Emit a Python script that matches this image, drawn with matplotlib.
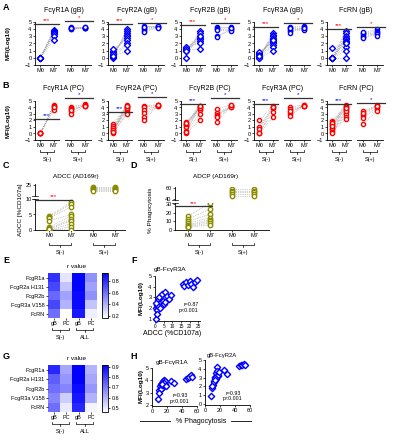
import numpy as np
import matplotlib
matplotlib.use('Agg')
import matplotlib.pyplot as plt
import matplotlib.transforms as mtrans
from matplotlib.colors import LinearSegmentedColormap

plt.rcParams['font.family'] = ['Liberation Sans', 'DejaVu Sans']

W, H = 402, 440

# ---------------- data ----------------
receptors = ['Fc\u03b3R1A', 'Fc\u03b3R2A', 'Fc\u03b3R2B', 'Fc\u03b3R3A', 'FcRN']

# row A : gB binding, MFI(log10)
gb_neg_m0 = [[0, 0, 0, 0, 0, 0, 0, 0, 0],
             [0, 0.2, 0.4, 0.6, 0.8, 1.0, 1.2, 0.5, 0.1, 0.3],
             [0, 1.0, 1.2, 1.4, 1.3, 1.1, 1.5, 1.2, 1.0],
             [0, 0.1, 0.2, 0.3, 0.5, 0.6, 0.7, 0.8, 0.4, 0.2, 0.0, 0.3],
             [0, 0, 0, 0, 0, 0, 0, 1.4, 0, 0, 0, 0]]
gb_neg_m7 = [[3.9, 3.8, 3.7, 3.6, 3.5, 3.4, 3.3, 3.0, 2.5],
             [4.0, 3.7, 3.5, 3.2, 3.0, 2.8, 2.5, 2.0, 1.8, 0.9],
             [3.7, 3.4, 3.1, 2.8, 2.6, 2.4, 2.0, 1.2, 3.0],
             [3.5, 3.2, 3.0, 2.8, 2.6, 2.4, 2.2, 2.0, 1.8, 1.5, 1.0, 2.5],
             [3.7, 3.4, 3.0, 2.8, 2.6, 2.4, 2.2, 2.0, 1.5, 1.0, 0.0, 2.1]]
gb_pos_m0 = [[4.3, 4.2, 4.1, 4.0, 4.0, 4.2],
             [4.4, 4.2, 4.0, 3.8, 4.3, 3.6],
             [4.3, 4.1, 4.0, 3.9, 3.1, 2.9],
             [4.3, 4.1, 3.9, 3.7, 3.5, 4.2],
             [3.5, 3.3, 3.1, 2.9, 2.7, 3.6]]
gb_pos_m7 = [[4.3, 4.2, 4.2, 4.1, 4.2, 4.3],
             [4.4, 4.3, 4.35, 4.3, 4.4, 4.2],
             [4.3, 4.2, 4.0, 3.9, 3.8, 4.1],
             [4.4, 4.2, 4.0, 3.9, 4.3, 4.1],
             [4.0, 3.8, 3.6, 3.5, 3.3, 3.1]]
gb_sig_neg = [4.7, 4.7, 4.6, 4.35, 4.0]
gb_sig_pos = [5.1, 4.9, 4.8, 4.8, 4.35]

# row B : PC binding
pc_neg_m0 = [[0, 0, 0, 0, 0, 0],
             [1.4, 1.1, 0.8, 0.6, 0.4, 0.2, 0.0, 0.9, 0.5, 0.3],
             [1.7, 1.5, 1.3, 1.2, 1.0, 0.4, 0.0, 1.4, 1.6, 0.2],
             [2.0, 1.0, 0.7, 0.1, 0.0, 0.0],
             [1.9, 1.7, 1.5, 1.3, 1.1, 0.9, 0.7, 0.5, 0.3, 0.0, 1.6, 1.2]]
pc_neg_m7 = [[4.4, 4.3, 4.2, 3.9, 3.6, 4.0],
             [4.4, 4.2, 4.0, 3.8, 3.5, 3.1, 3.0, 4.1, 3.9, 4.3],
             [4.3, 4.2, 4.0, 3.8, 3.6, 3.0, 2.1, 4.1, 3.9, 4.2],
             [4.3, 4.1, 3.9, 3.3, 2.5, 4.0],
             [4.4, 4.2, 4.0, 3.8, 3.6, 3.3, 3.0, 2.6, 2.2, 3.5, 4.1, 3.9]]
pc_pos_m0 = [[4.1, 3.9, 3.7, 3.4, 3.0, 3.6],
             [4.3, 4.0, 3.6, 3.1, 2.6, 2.0],
             [3.8, 3.2, 2.9, 2.7, 2.5, 1.7],
             [4.1, 3.7, 3.3, 3.0, 2.7, 3.5],
             [3.4, 3.0, 2.7, 2.4, 1.4, 3.2]]
pc_pos_m7 = [[4.5, 4.4, 4.3, 4.4, 4.2, 4.3],
             [4.4, 4.4, 4.3, 4.4, 4.3, 4.35],
             [4.4, 4.2, 4.1, 4.3, 4.0, 4.4],
             [4.4, 4.3, 4.2, 4.4, 4.3, 4.2],
             [4.4, 4.2, 4.0, 3.7, 3.5, 4.3]]
pc_sig_neg = [2.2, 3.3, 4.6, 4.6, 4.6]
pc_sig_pos = [5.4, 5.6, 5.5, 5.5, 4.7]

# C : ADCC
adcc_neg_m0 = [4.5, 4.2, 3.8, 3.0, 1.0, 0.5, 0.3, 0.0, 0.0, 0.2]
adcc_neg_m7 = [9.0, 8.5, 7.5, 5.0, 4.5, 3.5, 3.0, 2.0, 1.0, 0.0]
adcc_pos_m0 = [23, 22, 21, 20, 19]
adcc_pos_m7 = [23, 22, 21, 20, 19]

# D : ADCP
adcp_neg_m0 = [16, 13, 10, 8, 6, 5, 4, 3]
adcp_neg_m7 = [31, 24, 18, 14, 12, 10, 8, 6]
adcp_pos_m0 = [58, 55, 52, 49, 46]
adcp_pos_m7 = [58, 55, 52, 49, 46]

# E / G : r values
hm_rows = ['FcgR1a', 'FcgR2a H131', 'FcgR2b', 'FcgR3a V158', 'FcRN']
hm_cols = ['gB', 'PC', 'gB', 'PC']
e_r = [[0.78, 0.25, 0.92, 0.50],
       [0.72, 0.35, 0.92, 0.45],
       [0.62, 0.45, 0.90, 0.50],
       [0.72, 0.40, 0.90, 0.35],
       [0.60, 0.17, 0.85, 0.22]]
g_r = [[0.85, 0.62, 0.92, 0.60],
       [0.75, 0.65, 0.92, 0.62],
       [0.72, 0.68, 0.90, 0.65],
       [0.68, 0.55, 0.88, 0.60],
       [0.72, 0.50, 0.85, 0.48]]

# F : ADCC vs gB-FcgR3A
f_x = [0.5, 1, 1.5, 2, 2.5, 3, 3.5, 4, 4.5, 5, 5.5, 6, 7, 8, 9, 1, 2, 3, 0.8, 1.2,
       16, 17, 18, 19, 20, 21, 22, 23, 24, 0.3]
f_y = [2.0, 2.3, 2.8, 2.1, 3.0, 2.5, 2.2, 3.3, 2.7, 2.4, 3.5, 2.6, 3.1, 2.9, 3.2, 1.8, 2.2,
       2.0, 1.0, 1.5, 4.3, 4.1, 4.4, 4.2, 4.5, 4.3, 4.0, 4.4, 4.6, 2.5]

# H : ADCP vs gB-FcgR1A / gB-FcgR2A
h1_x = [8, 10, 11, 12, 13, 14, 15, 15, 16, 17, 18, 12, 14, 16, 25, 30, 45, 48, 50, 52, 54, 10, 13, 19]
h1_y = [2.5, 3.2, 3.5, 3.7, 3.4, 3.8, 3.9, 3.6, 4.0, 3.7, 3.9, 3.3, 3.6, 3.8, 3.9, 3.8,
        4.1, 4.2, 4.3, 4.4, 4.3, 3.0, 3.7, 3.5]
h2_x = [8, 10, 11, 12, 13, 14, 15, 15, 16, 17, 18, 12, 14, 16, 25, 30, 45, 48, 50, 52, 54, 10, 13, 19]
h2_y = [0.9, 1.8, 2.2, 2.6, 2.8, 3.1, 3.5, 2.9, 4.2, 3.2, 3.3, 2.5, 3.0, 3.7, 3.9, 3.4,
        4.3, 4.4, 4.4, 4.5, 4.4, 2.0, 2.7, 3.6]

# ---------------- drawing ----------------
fig = plt.figure(figsize=(W / 100, H / 100), dpi=100)
tfs = 4.0   # tick font
lfs = 4.6   # label font
BLUE, RED, OLIVE = '#0000ff', '#ff0000', '#8c8c00'


def ax_px(x0, y0, x1, y1):
    return fig.add_axes([x0 / W, 1 - y1 / H, (x1 - x0) / W, (y1 - y0) / H])


def ftext(x, y, s, **kw):
    kw.setdefault('fontsize', lfs)
    kw.setdefault('ha', 'center')
    kw.setdefault('va', 'center')
    return fig.text(x / W, 1 - y / H, s, **kw)


def style(ax, show_y=True):
    for s in ['top', 'right']:
        ax.spines[s].set_visible(False)
    for s in ['left', 'bottom']:
        ax.spines[s].set_linewidth(0.6)
    ax.tick_params(labelsize=tfs, length=1.5, width=0.5, pad=1)
    if not show_y:
        ax.spines['left'].set_visible(False)
        ax.set_yticks([])


def paired(ax, m0, m7, color, marker, xs=(0, 1), s=9):
    for a, b in zip(m0, m7):
        ax.plot(xs, [a, b], color='#9a9a9a', ls=':', lw=0.5, zorder=1)
    ax.scatter([xs[0]] * len(m0), m0, s=s, marker=marker, facecolors='white',
               edgecolors=color, linewidths=1.0, zorder=3, clip_on=False)
    ax.scatter([xs[1]] * len(m7), m7, s=s, marker=marker, facecolors='white',
               edgecolors=color, linewidths=1.0, zorder=3, clip_on=False)


def sig(ax, x0, x1, y, txt, color, dy=0.15):
    ax.plot([x0, x1], [y, y], color='#333333', lw=0.9, clip_on=False, zorder=4)
    ax.text((x0 + x1) / 2, y + dy, txt, color=color, ha='center', va='bottom',
            fontsize=4.5, clip_on=False)


def brace(ax, x0, x1, ypx, label):
    tr = mtrans.blended_transform_factory(ax.transData, fig.transFigure)
    y = 1 - ypx / H
    h = 1.8 / H
    ax.plot([x0, x0, x1, x1], [y + h, y, y, y + h], transform=tr, color='k',
            lw=0.5, clip_on=False)
    xm = (x0 + x1) / 2
    ax.plot([xm, xm], [y, y - h], transform=tr, color='k', lw=0.5, clip_on=False)
    ax.text(xm, y - 7 / H, label, transform=tr, ha='center', va='center',
            fontsize=tfs, clip_on=False)


# panel letters
for lab, x, y in [('A', 6, 7), ('B', 6, 86), ('C', 6, 166), ('D', 134, 166),
                  ('E', 6, 260), ('F', 134, 260), ('G', 6, 356), ('H', 134, 356)]:
    ftext(x, y, lab, fontsize=6.5, fontweight='bold')

# rows A and B
rows = [(gb_neg_m0, gb_neg_m7, gb_pos_m0, gb_pos_m7, gb_sig_neg, gb_sig_pos,
         BLUE, RED, 'D', 'o', '(gB)', 10, 22, 65, False),
        (pc_neg_m0, pc_neg_m7, pc_pos_m0, pc_pos_m7, pc_sig_neg, pc_sig_pos,
         RED, BLUE, 'o', 'o', '(PC)', 88, 101, 140, True)]
for (n0, n7, p0, p7, sn, sp, col, scol, mk_n, mk_p, tag, ty, top, bot, braces) in rows:
    ftext(8, (top + bot) / 2, 'MFI(Log10)', rotation=90, fontweight='bold', fontsize=4.6)
    for i, rec in enumerate(receptors):
        a = 35 + 73 * i
        ftext(a + 29, ty, rec + ' ' + tag, fontsize=5)
        axl = ax_px(a, top, a + 24, bot)
        axr = ax_px(a + 30, top, a + 56, bot)
        for ax in (axl, axr):
            ax.set_xlim(-0.4, 1.4)
            ax.set_ylim(-1, 5)
            ax.set_xticks([0, 1])
            ax.set_xticklabels(['M0', 'M7'])
        style(axl)
        axl.set_yticks(range(-1, 6))
        style(axr, show_y=False)
        paired(axl, n0[i], n7[i], col, mk_n)
        paired(axr, p0[i], p7[i], col, mk_p)
        sig(axl, -0.5, 1.4, sn[i], '***', scol)
        sig(axr, -0.4, 1.55, sp[i], '*', scol)
        if braces:
            brace(axl, 0, 1, bot + 12, 'S(-)')
            brace(axr, 0, 1, bot + 12, 'S(+)')


def broken(x0, x1, top_px, mid_hi, mid_lo, bot_px, lo_lim, hi_lim, lo_ticks, hi_ticks, xlim):
    axt = ax_px(x0, top_px, x1, mid_hi)
    axb = ax_px(x0, mid_lo, x1, bot_px)
    for ax in (axt, axb):
        ax.set_xlim(*xlim)
        style(ax)
    axt.set_ylim(*hi_lim)
    axb.set_ylim(*lo_lim)
    axt.set_yticks(hi_ticks)
    axb.set_yticks(lo_ticks)
    axt.spines['bottom'].set_visible(False)
    axt.set_xticks([])
    axb.set_xticks([0, 1, 2, 3])
    axb.set_xticklabels(['M0', 'M7', 'M0', 'M7'])
    # break marks
    for yy in (1 - (mid_hi + 0.3) / H, 1 - (mid_lo - 0.3) / H):
        fig.add_artist(plt.Line2D([(x0 - 3) / W, (x0 + 3) / W], [yy, yy],
                                  color='k', lw=0.5))
    return axt, axb


# C : ADCC
ftext(76, 176, 'ADCC (AD169r)')
ctop, cbot = broken(35, 125, 184, 196, 199, 230, (0, 10), (15, 25.5), [0, 5, 10], [25],
                    (-0.65, 3.45))
for ax in (ctop, cbot):
    paired(ax, adcc_neg_m0, adcc_neg_m7, OLIVE, 'o', s=10)
    paired(ax, adcc_pos_m0, adcc_pos_m7, OLIVE, 'o', xs=(2, 3), s=10)
    for c in ax.collections:
        c.set_clip_on(True)
sig(cbot, -0.65, 1.05, 9.7, '***', RED, dy=0.3)
ftext(21, 210, 'ADCC [%CD107a]', rotation=90)
brace(cbot, 0, 1, 245, 'S(-)')
brace(cbot, 2, 3, 245, 'S(+)')

# D : ADCP
ftext(216, 176, 'ADCP (AD169r)')
dtop, dbot = broken(175, 269, 187, 200, 203, 230, (0, 31), (38, 62), [0, 10, 20, 30], [40, 60],
                    (-0.6, 3.68))
for ax in (dtop, dbot):
    paired(ax, adcp_neg_m0, adcp_neg_m7, OLIVE, 'o', s=10)
    paired(ax, adcp_pos_m0, adcp_pos_m7, OLIVE, 'o', xs=(2, 3), s=10)
    for c in ax.collections:
        c.set_clip_on(True)
sig(dbot, -0.6, 1.1, 27, '***', RED, dy=1)
ftext(151, 210, '% Phagocytosis', rotation=90)
brace(dbot, 0, 1, 245, 'S(-)')
brace(dbot, 2, 3, 245, 'S(+)')

# E / G heatmaps
cmap = LinearSegmentedColormap.from_list('wb', ['#ffffff', '#0000ff'])
for vals, top, bot, vmin, vmax, cticks in [(e_r, 273, 318, 0.17, 0.93, [0.2, 0.4, 0.6, 0.8]),
                                           (g_r, 365, 412, 0.46, 0.92, [0.5, 0.6, 0.7, 0.8, 0.9])]:
    ftext(77, top - 7, 'r value')
    ax = ax_px(48, top, 97, bot)
    im = ax.imshow(np.array(vals), cmap=cmap, vmin=vmin, vmax=vmax, aspect='auto')
    ax.set_yticks(range(len(hm_rows)))
    ax.set_yticklabels(hm_rows)
    ax.set_xticks(range(len(hm_cols)))
    ax.set_xticklabels(hm_cols)
    ax.tick_params(labelsize=tfs, length=1.5, width=0.5, pad=1)
    for s in ax.spines.values():
        s.set_visible(False)
    brace(ax, -0.2, 1.2, bot + 12, 'S(-)')
    brace(ax, 1.8, 3.2, bot + 12, 'ALL')
    cax = ax_px(102, top, 108, bot)
    cb = fig.colorbar(im, cax=cax, ticks=cticks)
    cb.outline.set_linewidth(0.6)
    cb.ax.tick_params(labelsize=tfs, length=1.5, width=0.5, pad=1)

# F
axf = ax_px(155, 276, 200, 321)
style(axf)
axf.scatter(f_x, f_y, s=10, marker='D', facecolors='white', edgecolors=BLUE, linewidths=1.0,
            zorder=3, clip_on=False)
axf.set_xlim(0, 26)
axf.set_ylim(0.8, 5)
axf.set_xticks([0, 5, 10, 15, 20, 25])
axf.set_yticks([1, 2, 3, 4, 5])
axf.tick_params(axis='x', labelsize=3.4, pad=0.8)
axf.text(0.97, 0.3, 'r=0.87\np<0.001', transform=axf.transAxes, fontsize=3.8,
         ha='right', va='center', linespacing=1.1)
ftext(170, 270, 'gB-Fc\u03b3R3A')
ftext(172, 333, 'ADCC (%CD107a)', fontsize=5)
ftext(141, 298, 'MFI(Log10)', rotation=90, fontweight='bold')

# H
axh1 = ax_px(152, 368, 197, 406)
axh2 = ax_px(205, 360, 250, 405)
for ax, xs, ys, lim, ticks in [(axh1, h1_x, h1_y, (1.9, 5), [2, 3, 4, 5]),
                               (axh2, h2_x, h2_y, (-0.1, 5), [0, 1, 2, 3, 4, 5])]:
    style(ax)
    ax.scatter(xs, ys, s=10, marker='D', facecolors='white', edgecolors=BLUE, linewidths=1.0,
               zorder=3, clip_on=False)
    ax.set_xlim(0, 60)
    ax.set_ylim(*lim)
    ax.set_xticks([0, 20, 40, 60])
    ax.set_yticks(ticks)
    ax.text(0.62, 0.2, 'r=0.93\np<0.001', transform=ax.transAxes, fontsize=3.8,
            ha='center', va='center', linespacing=1.1)
ftext(172, 362, 'gB-Fc\u03b3R1A')
ftext(222, 355, 'gB-Fc\u03b3R2A', fontsize=4.2)
ftext(141, 386, 'MFI(Log10)', rotation=90, fontweight='bold')
ftext(201, 421, '% Phagocytosis', fontsize=5)
fig.add_artist(plt.Line2D([140 / W, 170 / W], [1 - 421 / H] * 2, color='k', lw=0.6))
fig.add_artist(plt.Line2D([231 / W, 251 / W], [1 - 421 / H] * 2, color='k', lw=0.6))

fig.savefig('out.png', dpi=100)
